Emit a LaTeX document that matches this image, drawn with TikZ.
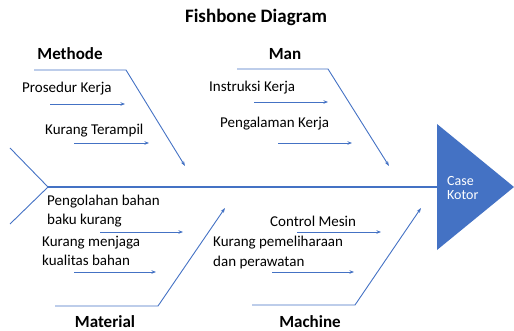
\documentclass[tikz,border=0pt]{standalone}
\usepackage{fontspec}
\setmainfont{Carlito}
\usetikzlibrary{arrows.meta}
\definecolor{fbblue}{HTML}{4472C4}
\begin{document}
\begin{tikzpicture}[x=1pt,y=-1pt,
  txt/.style={font=\fontsize{15}{19.5}\selectfont, inner sep=0pt, anchor=west, align=left},
  cat/.style={font=\fontsize{17}{20}\selectfont\bfseries, inner sep=0pt},
  bone/.style={draw=fbblue, line width=0.9pt},
  bonearrow/.style={bone, -{Stealth[length=5pt,width=3.5pt]}},
  sub/.style={draw=fbblue, line width=0.9pt, -{Stealth[length=4.5pt,width=3.5pt]}}]
\useasboundingbox (0,0) rectangle (514,331);
% title
\node[font=\fontsize{19}{22}\selectfont\bfseries, inner sep=0pt] (title) at (256,17) {Fishbone Diagram};
% head
\coordinate (hTop) at (437,124);
\coordinate (hBot) at (437,250);
\coordinate (hTip) at (514,187);
\fill[fbblue] (hTop) -- (hTip) -- (hBot) -- cycle;
\node[font=\fontsize{14}{14.5}\selectfont, inner sep=0pt, anchor=west, align=left, text=white] (case) at (447,188) {Case\\Kotor};
% spine
\coordinate (tail) at (48,187);
\coordinate (tailU) at (10,148);
\coordinate (tailD) at (10,224);
\coordinate (spineEnd) at (437,187);
\draw[fbblue, line width=1.8pt] (tail) -- (spineEnd);
\draw[bone] (tailU) -- (tail) -- (tailD);
% Methode
\node[cat] (methode) at (70,54) {Methode};
\coordinate (m0) at (34,70); \coordinate (m1) at (126,70); \coordinate (m2) at (185,166);
\draw[bonearrow] (m0) -- (m1) -- (m2);
\node[txt] (pk) at (22,89) {Prosedur Kerja};
\coordinate (pka) at (50,104); \coordinate (pkb) at (125,104);
\draw[sub] (pka) -- (pkb);
\node[txt] (kt) at (45,131) {Kurang Terampil};
\coordinate (kta) at (74,143); \coordinate (ktb) at (149,143);
\draw[sub] (kta) -- (ktb);
% Man
\node[cat] (man) at (285,54) {Man};
\coordinate (n0) at (237,69); \coordinate (n1) at (328,69); \coordinate (n2) at (389,166);
\draw[bonearrow] (n0) -- (n1) -- (n2);
\node[txt] (ik) at (209,88) {Instruksi Kerja};
\coordinate (ika) at (254,102); \coordinate (ikb) at (328,102);
\draw[sub] (ika) -- (ikb);
\node[txt] (pgk) at (220,124) {Pengalaman Kerja};
\coordinate (pga) at (278,143); \coordinate (pgb) at (352,143);
\draw[sub] (pga) -- (pgb);
% Material
\node[cat] (material) at (105,322) {Material};
\coordinate (t0) at (55,306); \coordinate (t1) at (158,306); \coordinate (t2) at (225,208);
\draw[bonearrow] (t0) -- (t1) -- (t2);
\node[txt] (pb) at (47,211) {Pengolahan bahan\\baku kurang};
\coordinate (pba) at (100,232); \coordinate (pbb) at (183,232);
\draw[sub] (pba) -- (pbb);
\node[txt] (km) at (42,251) {Kurang menjaga\\kualitas bahan};
\coordinate (kma) at (74,272); \coordinate (kmb) at (156,272);
\draw[sub] (kma) -- (kmb);
% Machine
\node[cat] (machine) at (310,322) {Machine};
\coordinate (c0) at (252,305); \coordinate (c1) at (355,305); \coordinate (c2) at (421,208);
\draw[bonearrow] (c0) -- (c1) -- (c2);
\node[txt] (cm) at (270,221) {Control Mesin};
\coordinate (cma) at (297,232); \coordinate (cmb) at (381,232);
\draw[sub] (cma) -- (cmb);
\node[txt] (kp) at (213,252.5) {Kurang pemeliharaan\\dan perawatan};
\coordinate (kpa) at (272,272); \coordinate (kpb) at (354,272);
\draw[sub] (kpa) -- (kpb);
\end{tikzpicture}
\end{document}
